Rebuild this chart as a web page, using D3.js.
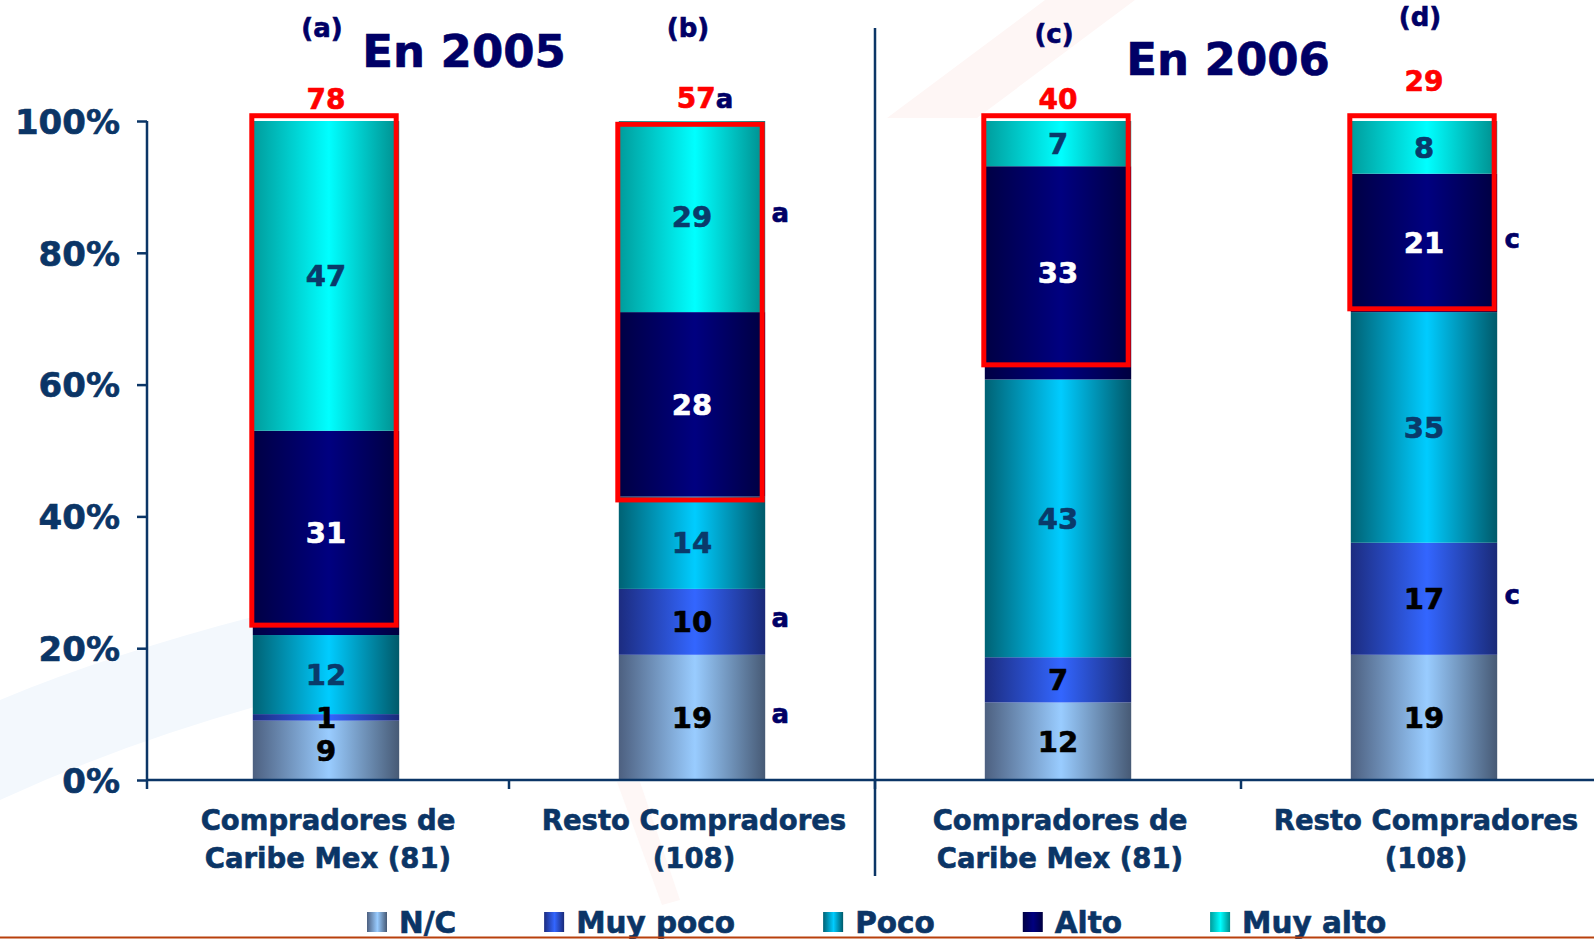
<!DOCTYPE html>
<html>
<head>
<meta charset="utf-8">
<script src="https://cdn.jsdelivr.net/npm/d3@7"></script>
<style>
  body { margin: 0; background: #fff; }
  svg { display: block; font-family: "DejaVu Sans", Verdana, sans-serif; font-weight: bold; }
  text { stroke-width: 0.6px; }
</style>
</head>
<body>
<svg id="chart" width="1594" height="939"></svg>
<script>
// Categories (x axis), two lines each
const categories = ["c2005a", "c2005b", "c2006a", "c2006b"];
const catLines = [
  ["Compradores de", "Caribe Mex (81)"],
  ["Resto Compradores", "(108)"],
  ["Compradores de", "Caribe Mex (81)"],
  ["Resto Compradores", "(108)"]
];
const panelLetters = ["(a)", "(b)", "(c)", "(d)"];

// Series, bottom to top
const series = ["N/C", "Muy poco", "Poco", "Alto", "Muy alto"];
const nc      = [9, 19, 12, 19];
const muyPoco = [1, 10, 7, 17];
const poco    = [12, 14, 43, 35];
const alto    = [31, 28, 33, 21];
const muyAlto = [47, 29, 7, 8];

// Highlighted totals (Alto + Muy alto) and the red box range in percent
const totals = [78, 57, 40, 29];
const totalMarks = ["", "a", "", ""];
const boxLow  = [0.235, 0.425, 0.63, 0.715];
const boxHigh = [1.008, 0.995, 1.008, 1.008];

// Significance letters next to segments: [bar index, series, letter]
const sigLetters = [
  [1, "Muy alto", "a"], [1, "Muy poco", "a"], [1, "N/C", "a"],
  [3, "Alto", "c"], [3, "Muy poco", "c"]
];

const yTicks = [0, 0.2, 0.4, 0.6, 0.8, 1];
const titles = ["En 2005", "En 2006"];

// Colours: [edge, centre, edge]
const grad = {
  "N/C":      ["#4d6080", "#99ccff", "#475a75"],
  "Muy poco": ["#1c2c80", "#3366ff", "#1a2a78"],
  "Poco":     ["#006274", "#00ccff", "#005a6a"],
  "Alto":     ["#000044", "#000080", "#000040"],
  "Muy alto": ["#009c9c", "#00ffff", "#008c8c"]
};
const labelColor = {
  "N/C": "#000000", "Muy poco": "#000000", "Poco": "#0a3a6a",
  "Alto": "#ffffff", "Muy alto": "#0a3a6a"
};

const axisColor = "#0b3566";
const navy = "#000066";

const svg = d3.select("#chart");

// Gradients
const defs = svg.append("defs");
series.forEach(function (s, i) {
  let g = defs.append("linearGradient").attr("id", "g" + i)
    .attr("x1", "0%").attr("x2", "100%").attr("y1", "0%").attr("y2", "0%");
  g.append("stop").attr("offset", "0%").attr("stop-color", grad[s][0]);
  g.append("stop").attr("offset", "52%").attr("stop-color", grad[s][1]);
  g.append("stop").attr("offset", "100%").attr("stop-color", grad[s][2]);
});

// Faint slide decorations in the background
svg.append("path")
  .attr("d", "M0,700 Q120,650 280,610 L280,700 Q130,740 0,800 Z")
  .attr("fill", "#f3f8fd");
svg.append("path")
  .attr("d", "M887,118 L977,118 L1135,0 L1045,0 Z")
  .attr("fill", "#fef6f5");
svg.append("path")
  .attr("d", "M617,782 L640,782 L680,900 L662,905 Z")
  .attr("fill", "#fef7f6");

// Scales
const x = d3.scaleBand().domain(categories).range([143, 1607])
  .paddingInner(0.6).paddingOuter(0.3);
const y = d3.scaleLinear().domain([0, 1]).range([780, 121]);

// Data table and 100% stack
const table = categories.map(function (c, i) {
  return { cat: c, "N/C": nc[i], "Muy poco": muyPoco[i], "Poco": poco[i], "Alto": alto[i], "Muy alto": muyAlto[i] };
});
const stack = d3.stack().keys(series).offset(d3.stackOffsetExpand)(table);

// Bars
const layers = svg.append("g").selectAll("g").data(stack).enter().append("g")
  .attr("fill", function (d, i) { return "url(#g" + i + ")"; });
layers.selectAll("rect").data(function (d) { return d; }).enter().append("rect")
  .attr("x", function (d) { return x(d.data.cat); })
  .attr("y", function (d) { return y(d[1]); })
  .attr("width", x.bandwidth())
  .attr("height", function (d) { return y(d[0]) - y(d[1]); });

// Segment labels
stack.forEach(function (layer) {
  svg.append("g").selectAll("text").data(layer).enter().append("text")
    .attr("x", function (d) { return x(d.data.cat) + x.bandwidth() / 2; })
    .attr("y", function (d) { return (y(d[0]) + y(d[1])) / 2; })
    .attr("dy", "0.36em")
    .attr("text-anchor", "middle")
    .attr("font-size", 29)
    .attr("fill", labelColor[layer.key])
    .attr("stroke", labelColor[layer.key])
    .text(function (d) { return d.data[layer.key]; });
});

// Red highlight boxes
svg.append("g").selectAll("rect").data(categories).enter().append("rect")
  .attr("x", function (d) { return x(d) - 1; })
  .attr("y", function (d, i) { return y(boxHigh[i]); })
  .attr("width", x.bandwidth() - 2)
  .attr("height", function (d, i) { return y(boxLow[i]) - y(boxHigh[i]); })
  .attr("fill", "none")
  .attr("stroke", "#ff0000")
  .attr("stroke-width", 5);

// Totals above bars
const totalY = [109, 108, 109, 91];
categories.forEach(function (c, i) {
  let t = svg.append("text")
    .attr("x", x(c) + x.bandwidth() / 2 + (totalMarks[i] ? 13 : 0))
    .attr("y", totalY[i])
    .attr("text-anchor", "middle")
    .attr("font-size", 28);
  t.append("tspan").attr("fill", "#ff0000").attr("stroke", "#ff0000").text(totals[i]);
  if (totalMarks[i]) t.append("tspan").attr("fill", navy).attr("stroke", navy).attr("font-size", 26).text(totalMarks[i]);
});

// Panel letters
const letterY = [37, 37, 43, 26];
svg.append("g").selectAll("text").data(panelLetters).enter().append("text")
  .attr("x", function (d, i) { return x(categories[i]) + x.bandwidth() / 2 - 4; })
  .attr("y", function (d, i) { return letterY[i]; })
  .attr("text-anchor", "middle")
  .attr("font-size", 26)
  .attr("fill", navy).attr("stroke", navy)
  .text(function (d) { return d; });

// Significance letters
sigLetters.forEach(function (s) {
  let layer = stack[series.indexOf(s[1])];
  let d = layer[s[0]];
  svg.append("text")
    .attr("x", x(categories[s[0]]) + x.bandwidth() + 15)
    .attr("y", (y(d[0]) + y(d[1])) / 2)
    .attr("dy", "0.2em")
    .attr("text-anchor", "middle")
    .attr("font-size", 26)
    .attr("fill", navy).attr("stroke", navy)
    .text(s[2]);
});

// Titles
svg.append("text").attr("x", 464).attr("y", 67).attr("text-anchor", "middle")
  .attr("font-size", 45).attr("fill", navy).attr("stroke", navy).attr("stroke-width", 1).text(titles[0]);
svg.append("text").attr("x", 1228).attr("y", 75).attr("text-anchor", "middle")
  .attr("font-size", 45).attr("fill", navy).attr("stroke", navy).attr("stroke-width", 1).text(titles[1]);

// Y axis
const yAxis = svg.append("g").attr("transform", "translate(147,0)")
  .call(d3.axisLeft(y).tickValues(yTicks).tickFormat(d3.format(".0%")).tickSize(10).tickPadding(17));
yAxis.select(".domain").attr("stroke", axisColor).attr("stroke-width", 2.5).attr("d", "M0,121V780");
yAxis.selectAll(".tick line").attr("stroke", axisColor).attr("stroke-width", 2.5);
yAxis.selectAll(".tick text").attr("fill", axisColor).attr("stroke", axisColor).attr("font-size", 34)
  .attr("font-family", "DejaVu Sans").attr("font-weight", "bold").attr("dy", "0.36em");

// X axis line and ticks at band boundaries
svg.append("line").attr("x1", 147).attr("x2", 1594).attr("y1", 780).attr("y2", 780)
  .attr("stroke", axisColor).attr("stroke-width", 2.5);
const bounds = [147].concat(categories.slice(1).map(function (c) { return x(c) - x.step() * x.paddingInner() / 2; }));
svg.append("g").selectAll("line").data(bounds).enter().append("line")
  .attr("x1", function (d) { return d; }).attr("x2", function (d) { return d; })
  .attr("y1", 780).attr("y2", 789)
  .attr("stroke", axisColor).attr("stroke-width", 2.5);

// Divider between years
svg.append("line").attr("x1", bounds[2]).attr("x2", bounds[2]).attr("y1", 28).attr("y2", 876)
  .attr("stroke", axisColor).attr("stroke-width", 2.5);

// Category labels
categories.forEach(function (c, i) {
  let t = svg.append("text")
    .attr("text-anchor", "middle")
    .attr("font-size", 27.5)
    .attr("fill", axisColor).attr("stroke", axisColor);
  catLines[i].forEach(function (line, j) {
    t.append("tspan").attr("x", x(c) + x.bandwidth() / 2 + 2).attr("y", 830 + j * 38).text(line);
  });
});

// Legend
const legend = svg.append("g");
let lx = 367;
series.forEach(function (s, i) {
  legend.append("rect").attr("x", lx).attr("y", 912).attr("width", 20).attr("height", 20)
    .attr("fill", "url(#g" + i + ")");
  let t = legend.append("text").attr("x", lx + 32).attr("y", 933)
    .attr("font-size", 29.5).attr("fill", axisColor).attr("stroke", axisColor).text(s);
  lx = lx + 32 + t.node().getComputedTextLength() + 88;
});

// Bottom rule of the slide
svg.append("line").attr("x1", 0).attr("x2", 1594).attr("y1", 937.5).attr("y2", 937.5)
  .attr("stroke", "#b8400c").attr("stroke-width", 2);
</script>
</body>
</html>
